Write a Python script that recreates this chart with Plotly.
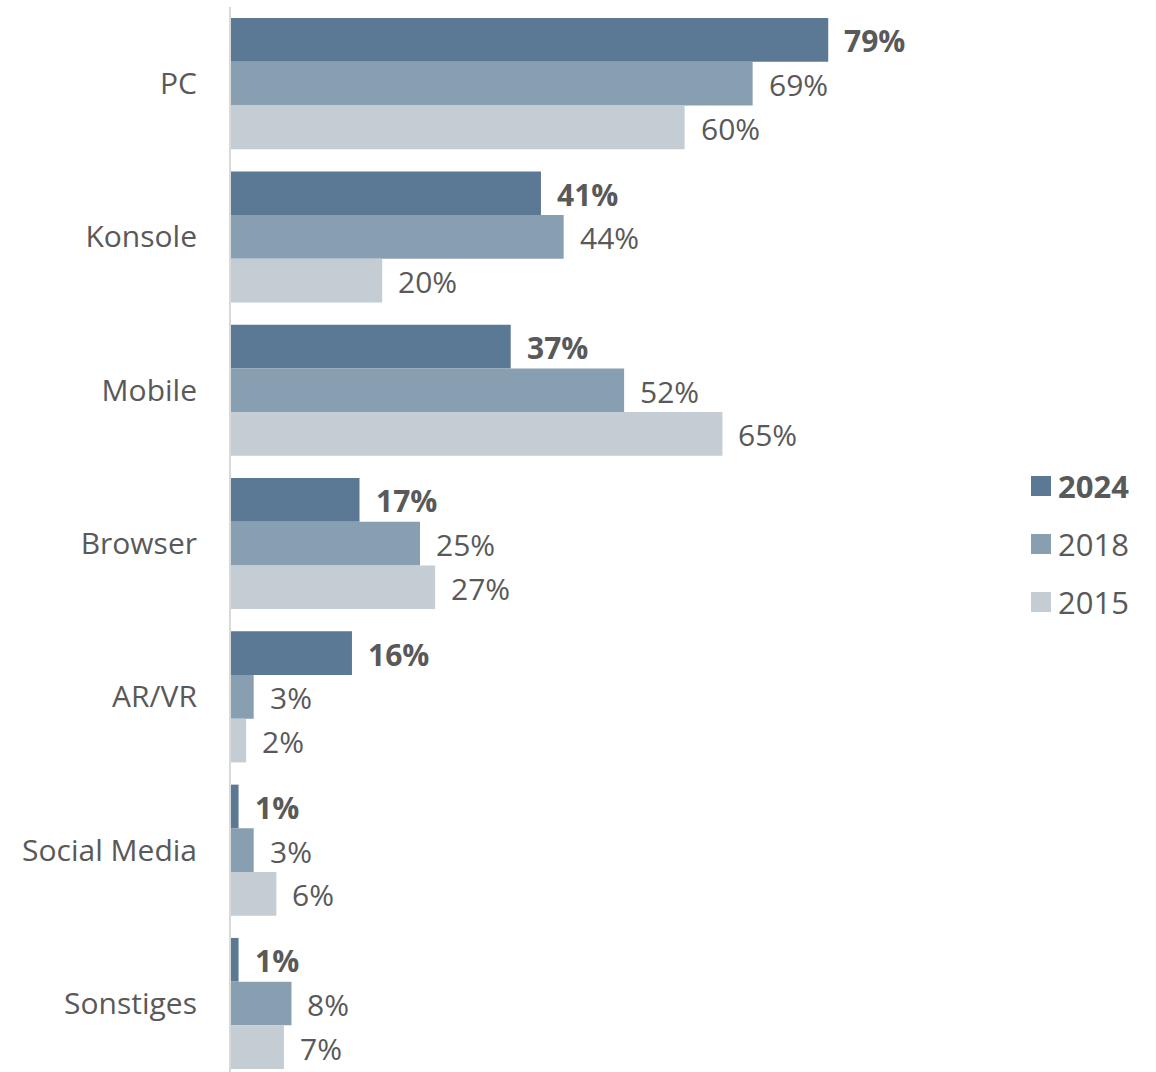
import plotly.graph_objects as go

# Nutzung von Spieleplattformen nach Erhebungsjahr (Anteil in %)
categories = ["PC", "Konsole", "Mobile", "Browser", "AR/VR", "Social Media", "Sonstiges"]
years = ["2024", "2018", "2015"]
values_2024 = [79, 41, 37, 17, 16, 1, 1]
values_2018 = [69, 44, 52, 25, 3, 3, 8]
values_2015 = [60, 20, 65, 27, 2, 6, 7]

series = [values_2024, values_2018, values_2015]
colors = ["#5b7894", "#889eb1", "#c4ccd4"]
text_color = "#595959"
font_family = "Open Sans, Noto Sans, sans-serif"
label_size = 30

fig = go.Figure()
for year, vals, col in zip(years, series, colors):
    fig.add_trace(go.Bar(
        y=categories, x=vals, name=year, orientation="h",
        marker=dict(color=col, line=dict(width=0)),
        showlegend=False, hoverinfo="skip",
    ))

# Value labels next to each bar (bold for the latest year)
bar_px = 43.7
for i, (year, vals) in enumerate(zip(years, series)):
    shift = (1 - i) * bar_px
    for cat, v in zip(categories, vals):
        txt = f"<b>{v}%</b>" if i == 0 else f"{v}%"
        fig.add_annotation(
            x=v, y=cat, xref="x", yref="y", text=txt, showarrow=False,
            xanchor="left", yanchor="middle", xshift=14, yshift=shift - 1,
            font=dict(family=font_family, size=label_size, color=text_color),
        )

# Legend drawn as squares with labels on the right side
plot_left, plot_width = 231, 756
legend_x = (1031 - plot_left) / plot_width
sq_w = 20 / plot_width
legend_rows = [486, 544, 602]
H_plot = 1065
for year, col, ypx in zip(years, colors, legend_rows):
    yc = 1 - (ypx - 7) / H_plot
    half = 10 / H_plot
    fig.add_shape(type="rect", xref="paper", yref="paper",
                  x0=legend_x, x1=legend_x + sq_w, y0=yc - half, y1=yc + half,
                  fillcolor=col, line=dict(width=0))
    fig.add_annotation(
        x=(1056 - plot_left) / plot_width, y=yc, xref="paper", yref="paper",
        text=f"<b>{year}</b>" if year == "2024" else year, showarrow=False,
        xanchor="left", yanchor="middle",
        font=dict(family=font_family, size=31, color=text_color),
    )

fig.update_layout(
    width=1156, height=1072,
    margin=dict(l=plot_left, r=1156 - plot_left - plot_width, t=7, b=0),
    barmode="group", bargap=0.145, bargroupgap=0,
    plot_bgcolor="white", paper_bgcolor="white",
    font=dict(family=font_family, size=label_size, color=text_color),
)
fig.update_xaxes(range=[0, 100], showticklabels=False, showgrid=False,
                 zeroline=False, showline=False)
fig.update_yaxes(range=[-0.5 + 6.947, -0.5], showgrid=False, zeroline=False,
                 showline=True, linecolor="#d9d9d9", linewidth=2,
                 ticks="", ticklabelstandoff=26,
                 tickfont=dict(family=font_family, size=30, color=text_color))

fig.write_html("out.html")
